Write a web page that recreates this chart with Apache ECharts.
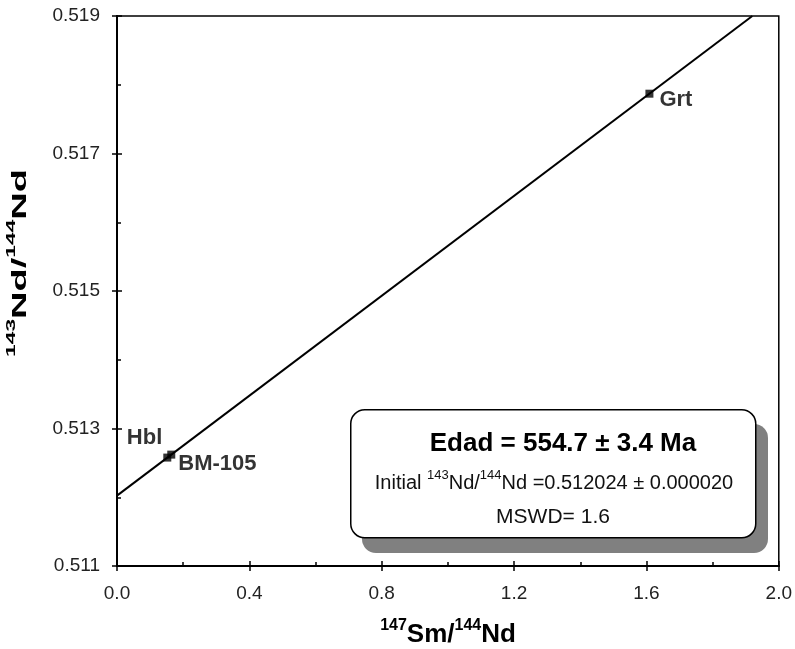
<!DOCTYPE html>
<html>
<head>
<meta charset="utf-8">
<script src="https://cdn.jsdelivr.net/npm/echarts@6/dist/echarts.min.js"></script>
<style>
  html, body { margin: 0; padding: 0; background: #fff; }
  #chart { width: 795px; height: 649px; }
</style>
</head>
<body>
<div id="chart"></div>
<script>
// isochron data
const sampleNames = ['Hbl', 'BM-105', 'Grt'];
const smNd = [0.152, 0.164, 1.609];
const ndNd = [0.512577, 0.512620, 0.51787];
// regression line end points
const lineX = [0, 1.92];
const lineY = [0.512024, 0.519];
const xTicks = [0, 2.0, 0.4];   // min, max, interval
const yTicks = [0.511, 0.519, 0.002];

const FONT = 'Arial, "Liberation Sans", sans-serif';
const chart = echarts.init(document.getElementById('chart'));

const baseX = {
  type: 'value', min: xTicks[0], max: xTicks[1], interval: xTicks[2],
  position: 'bottom',
  axisLine: { show: true, onZero: false, lineStyle: { color: '#000', width: 2 } },
  splitLine: { show: false }
};
const baseY = {
  type: 'value', min: yTicks[0], max: yTicks[1], interval: yTicks[2],
  position: 'left',
  axisLine: { show: true, onZero: false, lineStyle: { color: '#000', width: 2 } },
  splitLine: { show: false }
};

const labelPts = sampleNames.map((n, i) => ({
  value: [smNd[i], ndNd[i]],
  name: n,
  label: n === 'Hbl'
    ? { show: true, position: 'left', offset: [4, -20] }
    : n === 'BM-105'
      ? { show: true, position: 'right', offset: [-2, 9] }
      : { show: true, position: 'right', offset: [1, 6] }
}));

chart.setOption({
  animation: false,
  grid: { left: 117, right: 14, top: 16, bottom: 83, show: true, borderColor: '#000', borderWidth: 1.5 },
  xAxis: [
    Object.assign({}, baseX, {
      axisTick: { show: true, inside: false, length: 5, lineStyle: { color: '#000', width: 1.5 } },
      axisLabel: { show: true, color: '#222', fontSize: 19, fontFamily: FONT, margin: 18,
        formatter: v => v.toFixed(1) }
    }),
    Object.assign({}, baseX, {
      axisLabel: { show: false },
      axisTick: { show: true, inside: true, length: 5, lineStyle: { color: '#000', width: 1.5 } },
      minorTick: { show: true, splitNumber: 2, length: 4, lineStyle: { color: '#000', width: 1.5 } }
    })
  ],
  yAxis: [
    Object.assign({}, baseY, {
      axisTick: { show: true, inside: false, length: 5, lineStyle: { color: '#000', width: 1.5 } },
      axisLabel: { show: true, color: '#222', fontSize: 19, fontFamily: FONT, margin: 17,
        formatter: v => v.toFixed(3) }
    }),
    Object.assign({}, baseY, {
      axisLabel: { show: false },
      axisTick: { show: true, inside: true, length: 5, lineStyle: { color: '#000', width: 1.5 } },
      minorTick: { show: true, splitNumber: 2, length: 4, lineStyle: { color: '#000', width: 1.5 } }
    })
  ],
  series: [
    {
      type: 'line',
      data: lineX.map((x, i) => [x, lineY[i]]),
      symbol: 'none',
      lineStyle: { color: '#000', width: 2 },
      z: 2
    },
    {
      type: 'scatter',
      data: labelPts,
      symbol: 'rect',
      symbolSize: 8,
      itemStyle: { color: '#000' },
      label: { color: '#000', fontSize: 22, fontWeight: 'bold', fontFamily: FONT, formatter: '{b}' },
      z: 3
    }
  ],
  graphic: [
    // axis titles
    {
      type: 'text', x: 448, y: 633, z: 12,
      style: {
        x: 0, y: 0, align: 'center', verticalAlign: 'middle',
        text: '{s|147}{b|Sm/}{s|144}{b|Nd}',
        rich: {
          b: { fontSize: 26, fontWeight: 'bold', fontFamily: FONT, fill: '#000', lineHeight: 30, verticalAlign: 'bottom' },
          s: { fontSize: 16, fontWeight: 'bold', fontFamily: FONT, fill: '#000', lineHeight: 16, verticalAlign: 'top' }
        }
      }
    },
    {
      type: 'text', x: 18, y: 263, rotation: Math.PI / 2, scaleX: 1.9, z: 12,
      style: {
        x: 0, y: 0, align: 'center', verticalAlign: 'middle',
        text: '{s|143}{b|Nd/}{s|144}{b|Nd}',
        rich: {
          b: { fontSize: 20, fontWeight: 'bold', fontFamily: FONT, fill: '#000', lineHeight: 24, verticalAlign: 'bottom' },
          s: { fontSize: 12, fontWeight: 'bold', fontFamily: FONT, fill: '#000', lineHeight: 12, verticalAlign: 'top' }
        }
      }
    },
    // result box
    {
      type: 'rect', left: 362, top: 424, z: 10,
      shape: { width: 406, height: 129, r: 14 },
      style: { fill: '#808080' }
    },
    {
      type: 'rect', left: 350, top: 409, z: 11,
      shape: { width: 405, height: 128, r: 14 },
      style: { fill: '#fff', stroke: '#000', lineWidth: 1.5 }
    },
    {
      type: 'text', z: 12,
      style: {
        x: 563, y: 444, text: 'Edad = 554.7 ± 3.4 Ma', align: 'center', verticalAlign: 'middle',
        fontSize: 26, fontWeight: 'bold', fontFamily: FONT, fill: '#000'
      }
    },
    {
      type: 'text', z: 12,
      style: {
        x: 554, y: 481, align: 'center', verticalAlign: 'middle',
        text: '{n|Initial }{s|143}{n|Nd/}{s|144}{n|Nd =0.512024 ± 0.000020}',
        rich: {
          n: { fontSize: 20, fontFamily: FONT, fill: '#111', lineHeight: 24, verticalAlign: 'bottom' },
          s: { fontSize: 13, fontFamily: FONT, fill: '#111', lineHeight: 13, verticalAlign: 'top' }
        }
      }
    },
    {
      type: 'text', z: 12,
      style: {
        x: 553, y: 517, text: 'MSWD= 1.6', align: 'center', verticalAlign: 'middle',
        fontSize: 21, fontFamily: FONT, fill: '#111'
      }
    }
  ]
});
</script>
</body>
</html>
